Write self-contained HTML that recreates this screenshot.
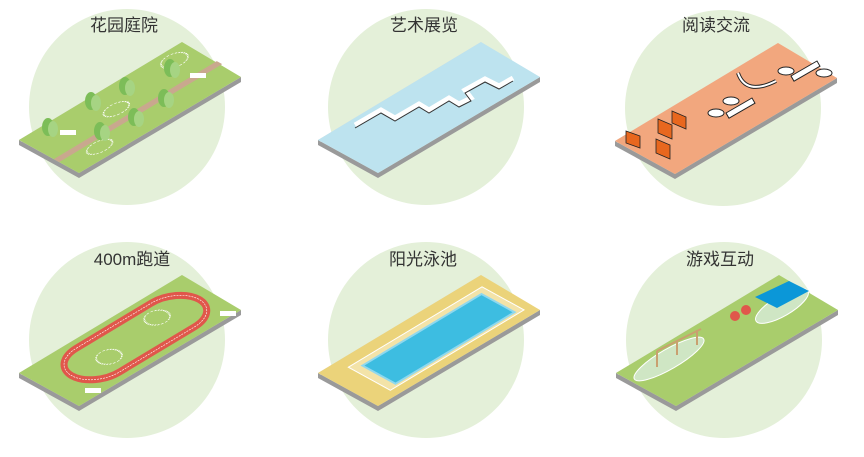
<!DOCTYPE html>
<html><head><meta charset="utf-8"><style>
html,body{margin:0;padding:0;background:#fff;}
svg{display:block}
text{font-family:"Liberation Sans","Noto Sans CJK SC",sans-serif;font-size:17px;fill:#333;text-anchor:middle}
</style></head><body>
<svg width="864" height="457" viewBox="0 0 864 457" xmlns="http://www.w3.org/2000/svg">
<defs>
<g id="side"><polygon points="19,140 79,173 241,77 241,82 79,178 19,145" fill="#9a9a9a"/><polygon points="19,140 182,42 182,45 22,142" fill="#d8d8d8"/></g>
</defs>

<!-- Panel 1 -->
<g>
<circle cx="127" cy="107" r="98" fill="#e4f0d9"/>
<text x="124" y="31">花园庭院</text>
<use href="#side"/>
<polygon points="19,140 182,42 241,77 79,173" fill="#a9cd6c"/>
<g transform="matrix(1.63,-0.98,0.6,0.33,19,140)">
<rect x="0" y="58" width="100" height="9" fill="#c9a88e"/>
<ellipse cx="20" cy="80" rx="7" ry="10" fill="none" stroke="#fff" stroke-dasharray="1.5 1"/>
<ellipse cx="45" cy="40" rx="7" ry="10" fill="none" stroke="#fff" stroke-dasharray="1.5 1"/>
<ellipse cx="88" cy="20" rx="7" ry="12" fill="none" stroke="#fff" stroke-dasharray="1.5 1"/>
</g>
<g fill="#7cbd58"><ellipse cx="48" cy="127" rx="6" ry="9"/><ellipse cx="91" cy="101" rx="6" ry="9"/><ellipse cx="125" cy="86" rx="6" ry="9"/><ellipse cx="170" cy="68" rx="6" ry="9"/><ellipse cx="100" cy="131" rx="6" ry="9"/><ellipse cx="134" cy="117" rx="6" ry="9"/><ellipse cx="164" cy="98" rx="6" ry="9"/></g>
<g fill="#a6d483"><ellipse cx="53" cy="129" rx="5" ry="8"/><ellipse cx="96" cy="103" rx="5" ry="8"/><ellipse cx="130" cy="88" rx="5" ry="8"/><ellipse cx="175" cy="70" rx="5" ry="8"/><ellipse cx="105" cy="133" rx="5" ry="8"/><ellipse cx="139" cy="119" rx="5" ry="8"/><ellipse cx="169" cy="100" rx="5" ry="8"/></g>
<g fill="#fff"><rect x="60" y="130" width="16" height="5"/><rect x="190" y="73" width="16" height="5"/></g>
</g>

<!-- Panel 2 -->
<g transform="translate(299,0)">
<circle cx="127" cy="107" r="98" fill="#e4f0d9"/>
<text x="125" y="31">艺术展览</text>
<use href="#side"/>
<polygon points="19,140 182,42 241,77 79,173" fill="#bde3ef"/>
<polyline points="56,125 82,110 96,118 120,104 130,110 150,98 160,104 172,98 166,90 186,79 200,86 214,78" fill="none" stroke="#fff" stroke-width="5"/>
<polyline points="56,125 82,110 96,118 120,104 130,110 150,98 160,104 172,98 166,90 186,79 200,86 214,78" fill="none" stroke="#333" stroke-width="1" transform="translate(0,3)"/>
</g>

<!-- Panel 3 -->
<g transform="translate(596,1)">
<circle cx="127" cy="107" r="98" fill="#e4f0d9"/>
<text x="120" y="30">阅读交流</text>
<use href="#side"/>
<polygon points="19,140 182,42 241,77 79,173" fill="#f2a77e"/>
<g fill="#e8671e" stroke="#222" stroke-width="0.8"><polygon points="30,130 44,135 44,147 30,142"/><polygon points="62,118 76,124 76,138 62,132"/><polygon points="60,138 74,144 74,158 60,152"/><polygon points="76,110 90,116 90,128 76,122"/></g>
<g fill="#fff" stroke="#222" stroke-width="1"><ellipse cx="120" cy="112" rx="8" ry="4"/><ellipse cx="135" cy="100" rx="8" ry="4"/><ellipse cx="190" cy="70" rx="8" ry="4"/><ellipse cx="228" cy="72" rx="8" ry="4"/>
<rect x="130" y="112" width="30" height="6" transform="rotate(-30 130 112)"/><rect x="195" y="75" width="30" height="6" transform="rotate(-30 195 75)"/></g>
<path d="M142,72 Q150,95 180,80" fill="none" stroke="#222" stroke-width="4"/>
<path d="M142,72 Q150,95 180,80" fill="none" stroke="#fff" stroke-width="2"/>
</g>

<!-- Panel 4 -->
<g transform="translate(0,233)">
<circle cx="127" cy="107" r="98" fill="#e4f0d9"/>
<text x="132" y="32">400m跑道</text>
<use href="#side"/>
<polygon points="19,140 182,42 241,77 79,173" fill="#a9cd6c"/>
<g transform="matrix(1.63,-0.98,0.6,0.33,19,140)">
<rect x="14" y="14" width="78" height="72" rx="16" ry="36" fill="none" stroke="#e0574b" stroke-width="7" vector-effect="non-scaling-stroke"/>
<rect x="14" y="14" width="78" height="72" rx="16" ry="36" fill="none" stroke="#fff" stroke-width="0.6" stroke-dasharray="2 1" vector-effect="non-scaling-stroke"/>
<ellipse cx="35" cy="55" rx="6" ry="14" fill="none" stroke="#fff" stroke-dasharray="1.5 1"/>
<ellipse cx="70" cy="40" rx="6" ry="14" fill="none" stroke="#fff" stroke-dasharray="1.5 1"/>
</g>
<g fill="#fff"><rect x="85" y="155" width="16" height="5"/><rect x="220" y="78" width="16" height="5"/></g>
</g>

<!-- Panel 5 -->
<g transform="translate(299,233)">
<circle cx="127" cy="107" r="98" fill="#e4f0d9"/>
<text x="124" y="32">阳光泳池</text>
<use href="#side"/>
<polygon points="19,140 182,42 241,77 79,173" fill="#ebd37a"/>
<g transform="matrix(1.63,-0.98,0.6,0.33,19,140)">
<rect x="12" y="18" width="82" height="70" fill="#f3e3a8" stroke="#fff" stroke-width="1" vector-effect="non-scaling-stroke"/>
<rect x="17" y="28" width="73" height="55" fill="#3dbde1" stroke="#8fd8ee" stroke-width="2" vector-effect="non-scaling-stroke"/>
</g>
</g>

<!-- Panel 6 -->
<g transform="translate(597,233)">
<circle cx="127" cy="107" r="98" fill="#e4f0d9"/>
<text x="123" y="32">游戏互动</text>
<use href="#side"/>
<polygon points="19,140 182,42 241,77 79,173" fill="#a9cd6c"/>
<ellipse cx="72" cy="126" rx="40" ry="10" transform="rotate(-30 72 126)" fill="#cfe6c4" stroke="#fff"/>
<ellipse cx="185" cy="73" rx="30" ry="10" transform="rotate(-30 185 73)" fill="#cfe6c4" stroke="#fff"/>
<polygon points="158,64 192,48 212,58 180,75" fill="#0b97d8"/>
<g stroke="#c9a070" stroke-width="2"><line x1="60" y1="118" x2="60" y2="134"/><line x1="80" y1="108" x2="80" y2="122"/><line x1="100" y1="97" x2="100" y2="112"/><line x1="60" y1="118" x2="104" y2="96"/></g>
<g fill="#e0574b"><circle cx="138" cy="83" r="5"/><circle cx="149" cy="77" r="5"/></g>
</g>
</svg>
</body></html>
